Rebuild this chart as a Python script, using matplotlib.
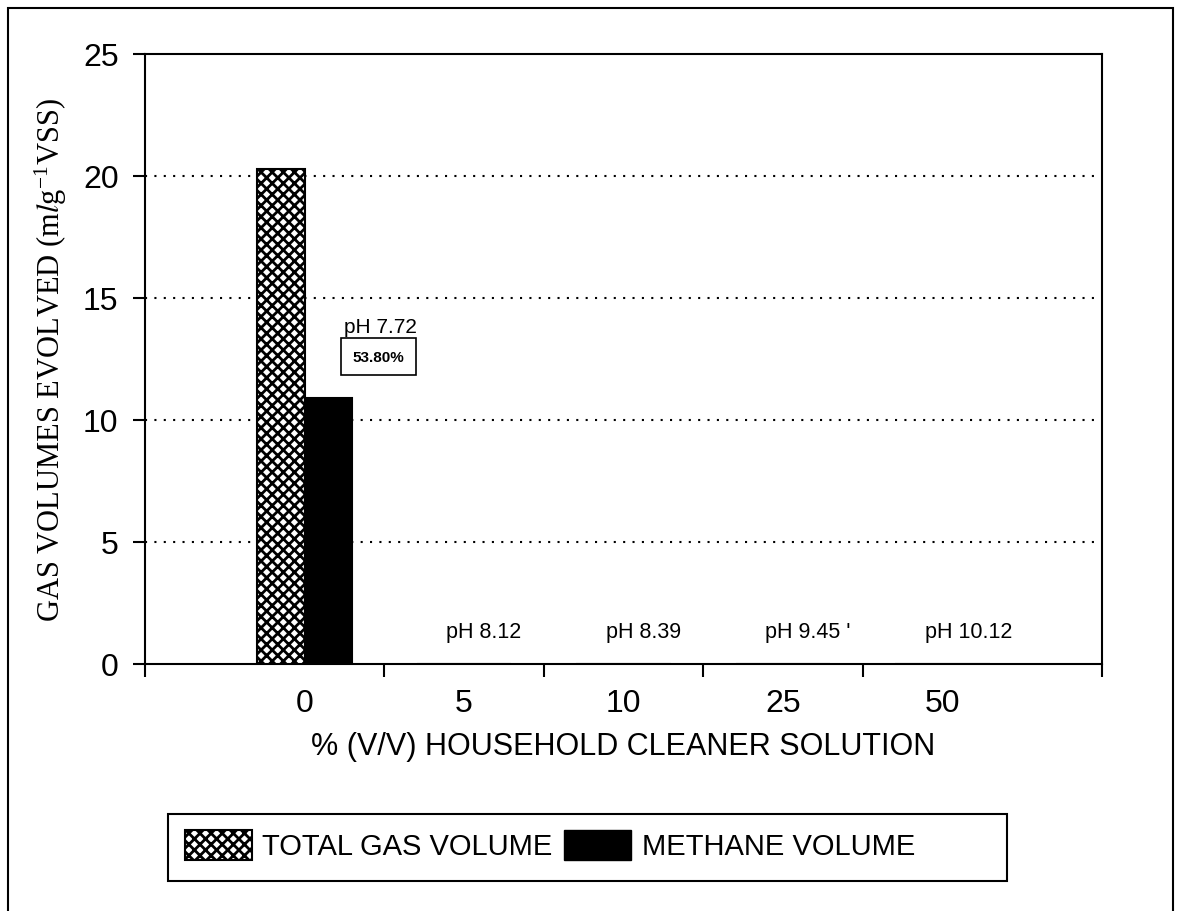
import matplotlib
matplotlib.use("Agg")
import matplotlib.pyplot as plt
from matplotlib.patches import Patch, Rectangle

# data
categories = ["0", "5", "10", "25", "50"]
total_gas = [20.3, 0, 0, 0, 0]
methane = [10.9, 0, 0, 0, 0]
ph_labels = ["pH 7.72", "pH 8.12", "pH 8.39", "pH 9.45 '", "pH 10.12"]
methane_share = "53.80%"
y_ticks = [0, 5, 10, 15, 20, 25]

plt.rcParams["font.family"] = ["Liberation Sans", "DejaVu Sans"]
plt.rcParams["hatch.linewidth"] = 2.0
plt.rcParams["mathtext.fontset"] = "stix"

fig = plt.figure(figsize=(11.81, 9.12), dpi=100)
ax = fig.add_axes([145 / 1181, 1 - 665 / 912, 957 / 1181, 610 / 912])

x = list(range(len(categories)))
w = 0.295
ax.bar([i - w / 2 for i in x], total_gas, width=w, facecolor="white",
       edgecolor="black", hatch="xxx", linewidth=1.5, zorder=3)
ax.bar([i + w / 2 for i in x], methane, width=w, facecolor="black",
       edgecolor="black", linewidth=1.5, zorder=3)

ax.set_xlim(-1, 5)
ax.set_ylim(0, 25)
ax.set_yticks(y_ticks)
ax.set_xticks(x)
ax.set_xticklabels(categories)
ax.set_xticks([-1, 0.5, 1.5, 2.5, 3.5, 5], minor=True)
ax.tick_params(axis="x", which="major", length=0, pad=17, labelsize=23)
ax.tick_params(axis="x", which="minor", length=9, width=1.5, direction="out")
ax.tick_params(axis="y", length=9, width=1.5, direction="out", pad=10, labelsize=23)

for s in ax.spines.values():
    s.set_linewidth(1.5)

for yv in y_ticks[1:-1]:
    ax.axhline(yv, color="black", linewidth=1.5, linestyle=(0, (1, 3.5)), zorder=1)

# pH annotations
ax.text(0.25, 13.85, ph_labels[0], fontsize=15, va="center", ha="left")
ax.text(0.30, 12.6, methane_share, fontsize=11, fontweight="bold", va="center",
        ha="left", bbox=dict(boxstyle="square,pad=0.75", facecolor="white",
                             edgecolor="black", linewidth=1.2))
for i in x[1:]:
    ax.text(i - 0.11, 1.35, ph_labels[i], fontsize=15.5, va="center", ha="left")

ax.set_xlabel("% (V/V) HOUSEHOLD CLEANER SOLUTION", fontsize=22, labelpad=10)
ax.set_ylabel(r"GAS VOLUMES EVOLVED (m$\mathit{l}$g$^{\mathregular{-1}}$VSS)",
              fontsize=22, family="Liberation Serif", labelpad=10)

# legend with its own frame
handles = [Patch(facecolor="white", edgecolor="black", hatch="xxx", linewidth=1.5),
           Patch(facecolor="black", edgecolor="black")]
fig.legend(handles, ["TOTAL GAS VOLUME", "METHANE VOLUME"], ncol=2,
           loc="center left", bbox_to_anchor=(185 / 1181, 1 - 846 / 912),
           frameon=False, fontsize=21, borderpad=0, borderaxespad=0,
           handlelength=2.3, handleheight=1.2, handletextpad=0.35,
           columnspacing=0.4)
fig.patches.append(Rectangle((168 / 1181, 1 - 882 / 912), 839 / 1181, 67 / 912,
                             transform=fig.transFigure, fill=False,
                             edgecolor="black", linewidth=1.5))
# outer border (bottom edge runs off the page)
fig.patches.append(Rectangle((8 / 1181, -0.02), 1165 / 1181, 1.02 - 9 / 912,
                             transform=fig.transFigure, fill=False,
                             edgecolor="black", linewidth=1.5))

fig.savefig("out.png", dpi=100)
